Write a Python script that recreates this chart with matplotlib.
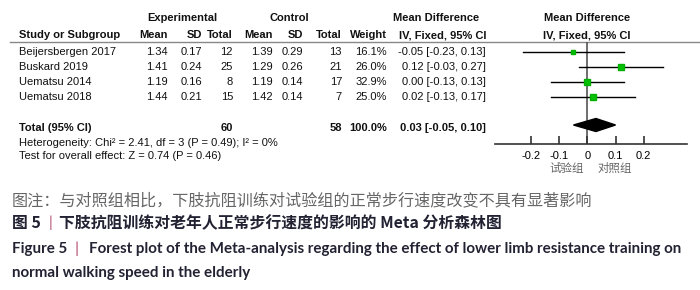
import matplotlib
matplotlib.use("Agg")
import matplotlib.pyplot as plt
from matplotlib import font_manager
import numpy as np

# data
studies = ["Beijersbergen 2017", "Buskard 2019", "Uematsu 2014", "Uematsu 2018"]
exp_mean = [1.34, 1.41, 1.19, 1.44]
exp_sd = [0.17, 0.24, 0.16, 0.21]
exp_n = [12, 25, 8, 15]
ctl_mean = [1.39, 1.29, 1.19, 1.42]
ctl_sd = [0.29, 0.26, 0.14, 0.14]
ctl_n = [13, 21, 17, 7]
weight = [16.1, 26.0, 32.9, 25.0]
md = [-0.05, 0.12, 0.00, 0.02]
ci_lo = [-0.23, -0.03, -0.13, -0.13]
ci_hi = [0.13, 0.27, 0.13, 0.17]
total_md, total_lo, total_hi = 0.03, -0.05, 0.10
xticks = [-0.2, -0.1, 0, 0.1, 0.2]

names = {f.name for f in font_manager.fontManager.ttflist}
if "Liberation Sans Narrow" in names:
    narrow, fs = "Liberation Sans Narrow", 9.2
else:
    narrow, fs = "Liberation Sans", 8.0
cjk = "Noto Sans CJK SC"
latin = "Lato"

fig = plt.figure(figsize=(7, 2.9), dpi=100)
bg = fig.add_axes([0, 0, 1, 1])
bg.set_xlim(0, 700)
bg.set_ylim(290, 0)
bg.axis("off")

def t(x, y, s, ha="right", bold=False, **kw):
    bg.text(x, y, s, ha=ha, va="center", fontsize=kw.pop("size", fs),
            family=kw.pop("family", narrow),
            fontweight="bold" if bold else "normal", color=kw.pop("color", "#111111"), **kw)

# headers
t(182, 18, "Experimental", ha="center", bold=True)
t(289, 18, "Control", ha="center", bold=True)
t(436, 18, "Mean Difference", ha="center", bold=True)
t(587, 18, "Mean Difference", ha="center", bold=True)
t(19, 35, "Study or Subgroup", ha="left", bold=True)
cols = [168, 202, 233, 273, 303, 342, 387]
for x, s in zip(cols, ["Mean", "SD", "Total", "Mean", "SD", "Total", "Weight"]):
    t(x, 35, s, bold=True)
t(443, 35, "IV, Fixed, 95% CI", ha="center", bold=True)
t(587, 35, "IV, Fixed, 95% CI", ha="center", bold=True)
bg.plot([10, 700], [41.5, 41.5], color="#888888", lw=1)

row_y = [52, 67, 82, 97]
for i, y in enumerate(row_y):
    t(19, y, studies[i], ha="left")
    vals = [f"{exp_mean[i]:.2f}", f"{exp_sd[i]:.2f}", str(exp_n[i]),
            f"{ctl_mean[i]:.2f}", f"{ctl_sd[i]:.2f}", str(ctl_n[i]), f"{weight[i]:.1f}%"]
    for x, s in zip(cols, vals):
        t(x, y, s)
    t(486, y, f"{md[i]:.2f} [{ci_lo[i]:.2f}, {ci_hi[i]:.2f}]")

t(19, 128, "Total (95% CI)", ha="left", bold=True)
t(233, 128, str(sum(exp_n)), bold=True)
t(342, 128, str(sum(ctl_n)), bold=True)
t(387, 128, "100.0%", bold=True)
t(486, 128, f"{total_md:.2f} [{total_lo:.2f}, {total_hi:.2f}]", bold=True)
t(19, 143, "Heterogeneity: Chi² = 2.41, df = 3 (P = 0.49); I² = 0%", ha="left")
t(19, 156, "Test for overall effect: Z = 0.74 (P = 0.46)", ha="left")

# forest panel
px0, px1, py0, py1 = 495, 687, 41.5, 144
fx = fig.add_axes([px0 / 700, 1 - py1 / 290, (px1 - px0) / 700, (py1 - py0) / 290])
fx.set_xlim(-0.33, 0.355)
fx.set_ylim(py1, py0)
fx.patch.set_alpha(0)
for s in ["top", "left", "right"]:
    fx.spines[s].set_visible(False)
fx.spines["bottom"].set_color("#333333")
fx.spines["bottom"].set_linewidth(1.2)
fx.set_yticks([])
fx.set_xticks(xticks)
fx.set_xticklabels(["-0.2", "-0.1", "0", "0.1", "0.2"], family=narrow, fontsize=fs)
fx.tick_params(axis="x", direction="in", length=6, width=1.2, color="#333333", pad=5)
fx.axvline(0, color="#555555", lw=1.2, zorder=1)
for i, y in enumerate(row_y):
    fx.plot([ci_lo[i], ci_hi[i]], [y, y], color="black", lw=1, zorder=2)
    fx.plot(md[i], y, marker="s", ms=0.85 * np.sqrt(weight[i]), color="#00c000",
            mec="#00b000", zorder=3)
dy = 125
fx.fill([total_lo, total_md, total_hi, total_md], [dy, dy - 6.5, dy, dy + 6.5],
        color="black", zorder=3)

t(567, 168, "试验组", ha="center", family=cjk, size=8.3, color="#666666")
t(615, 168, "对照组", ha="center", family=cjk, size=8.3, color="#666666")

# caption
t(12, 201, "图注：与对照组相比，下肢抗阻训练对试验组的正常步行速度改变不具有显著影响",
  ha="left", family=cjk, size=11.6, color="#666666")
t(12, 223, "图 5", ha="left", family=cjk, size=11.4, bold=True, color="#222233")
t(50, 223, "|", ha="center", family=latin, size=11, color="#b04a6a")
t(59, 223, "下肢抗阻训练对老年人正常步行速度的影响的 Meta 分析森林图",
  ha="left", family=cjk, size=11.4, bold=True, color="#222233")
t(12, 249, "Figure 5", ha="left", family=latin, size=10.9, bold=True, color="#222233")
t(77, 249, "|", ha="center", family=latin, size=11.5, color="#b04a6a")
t(89, 249, "Forest plot of the Meta-analysis regarding the effect of lower limb resistance training on",
  ha="left", family=latin, size=10.9, bold=True, color="#222233")
t(12, 273, "normal walking speed in the elderly", ha="left", family=latin, size=10.9,
  bold=True, color="#222233")

fig.savefig("out.png", dpi=100)
